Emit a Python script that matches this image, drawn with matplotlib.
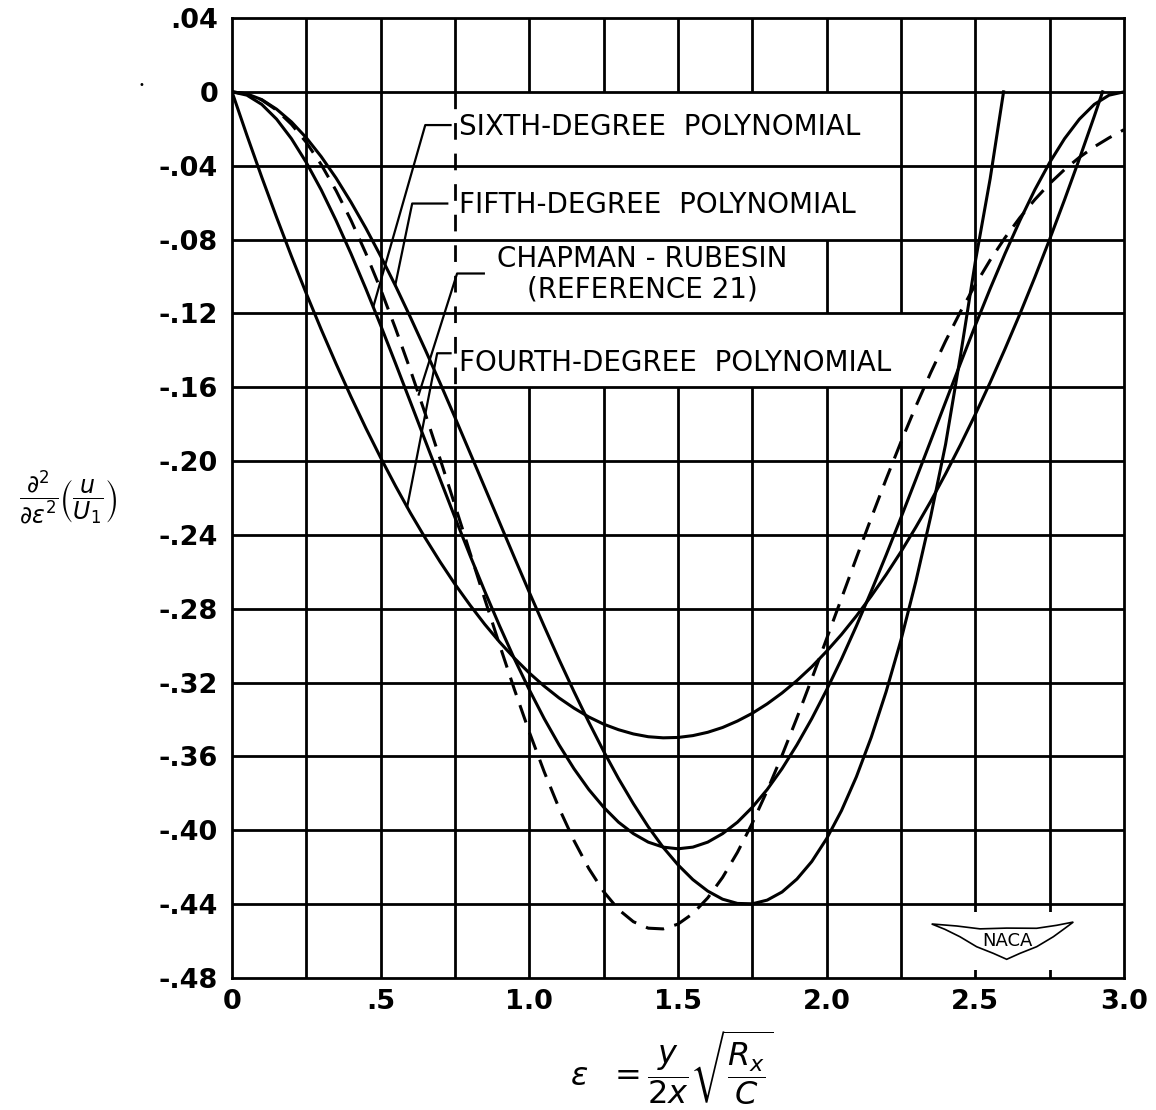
import numpy as np
import matplotlib.pyplot as plt
from matplotlib.patches import Rectangle, Polygon

# eps values and d2(u/U1)/d eps2
eps_4 = [0, .05, .1, .15, .2, .25, .3, .35, .4, .45, .5, .55, .6, .65, .7, .75, .8,
         .85, .9, .95, 1.0, 1.05, 1.1, 1.15, 1.2, 1.25, 1.3, 1.35, 1.4, 1.45, 1.5,
         1.55, 1.6, 1.65, 1.7, 1.75, 1.8, 1.85, 1.9, 1.95, 2.0, 2.05, 2.1, 2.15, 2.2,
         2.25, 2.3, 2.35, 2.4, 2.45, 2.5, 2.55, 2.6, 2.65, 2.7, 2.75, 2.8, 2.85, 2.9,
         2.928]
fourth = [0, -.0235, -.0462, -.0680, -.0891, -.1093, -.1287, -.1473, -.1651, -.1821,
          -.1982, -.2135, -.2281, -.2417, -.2546, -.2667, -.2779, -.2884, -.2980,
          -.3068, -.3148, -.3219, -.3283, -.3338, -.3386, -.3425, -.3455, -.3478,
          -.3493, -.3499, -.3497, -.3487, -.3469, -.3443, -.3408, -.3366, -.3315,
          -.3256, -.3189, -.3114, -.3030, -.2939, -.2839, -.2731, -.2615, -.2491,
          -.2358, -.2218, -.2069, -.1912, -.1747, -.1574, -.1392, -.1203, -.1005,
          -.0799, -.0585, -.0363, -.0133, 0]

eps_5 = [0, .05, .1, .15, .2, .25, .3, .35, .4, .45, .5, .55, .6, .65, .7, .75, .8,
         .85, .9, .95, 1.0, 1.05, 1.1, 1.15, 1.2, 1.25, 1.3, 1.35, 1.4, 1.45, 1.5,
         1.55, 1.6, 1.65, 1.7, 1.75, 1.8, 1.85, 1.9, 1.95, 2.0, 2.05, 2.1, 2.15, 2.2,
         2.25, 2.3, 2.35, 2.4, 2.45, 2.5, 2.55, 2.595]
fifth = [0, -.0011, -.0042, -.0094, -.0163, -.0249, -.0351, -.0467, -.0597, -.0738,
         -.0890, -.1051, -.1221, -.1397, -.1578, -.1764, -.1953, -.2143, -.2333,
         -.2523, -.2711, -.2895, -.3075, -.3248, -.3414, -.3572, -.3720, -.3856,
         -.3981, -.4092, -.4187, -.4267, -.4329, -.4373, -.4396, -.4398, -.4378,
         -.4334, -.4264, -.4169, -.4045, -.3893, -.3710, -.3496, -.3249, -.2969,
         -.2652, -.2300, -.1909, -.1430, -.0920, -.0470, 0]

eps_6 = [0, .05, .1, .15, .2, .25, .3, .35, .4, .45, .5, .55, .6, .65, .7, .75, .8,
         .85, .9, .95, 1.0, 1.05, 1.1, 1.15, 1.2, 1.25, 1.3, 1.35, 1.4, 1.45, 1.5,
         1.55, 1.6, 1.65, 1.7, 1.75, 1.8, 1.85, 1.9, 1.95, 2.0, 2.05, 2.1, 2.15, 2.2,
         2.25, 2.3, 2.35, 2.4, 2.45, 2.5, 2.55, 2.6, 2.65, 2.7, 2.75, 2.8, 2.85, 2.9,
         2.95, 3.0]
sixth = [0, -.0018, -.0068, -.0148, -.0254, -.0383, -.0531, -.0697, -.0876, -.1066,
         -.1265, -.1471, -.1680, -.1890, -.2099, -.2306, -.2509, -.2705, -.2893,
         -.3072, -.3239, -.3395, -.3537, -.3666, -.3779, -.3875, -.3956, -.4018,
         -.4064, -.4091, -.4100, -.4091, -.4064, -.4018, -.3956, -.3875, -.3779,
         -.3666, -.3537, -.3395, -.3239, -.3072, -.2893, -.2705, -.2509, -.2306,
         -.2099, -.1890, -.1680, -.1471, -.1265, -.1066, -.0876, -.0697, -.0531,
         -.0383, -.0254, -.0148, -.0068, -.0018, 0]

eps_cr = eps_6
chapman = [0, -.0011, -.0044, -.0099, -.0176, -.0274, -.0394, -.0535, -.0695, -.0874,
           -.1070, -.1282, -.1507, -.1744, -.1989, -.2240, -.2494, -.2747, -.2996,
           -.3238, -.3468, -.3683, -.3880, -.4055, -.4207, -.4332, -.4429, -.4495,
           -.4530, -.4534, -.4508, -.4451, -.4366, -.4255, -.4119, -.3961, -.3785,
           -.3594, -.3391, -.3179, -.2962, -.2743, -.2524, -.2308, -.2098, -.1896,
           -.1703, -.1521, -.1350, -.1191, -.1045, -.0911, -.0790, -.0681, -.0584,
           -.0497, -.0421, -.0355, -.0298, -.0249, -.0205]

yticks = [.04, 0, -.04, -.08, -.12, -.16, -.20, -.24, -.28, -.32, -.36, -.40, -.44, -.48]
ytick_labels = ['.04', '0', '-.04', '-.08', '-.12', '-.16', '-.20', '-.24', '-.28',
                '-.32', '-.36', '-.40', '-.44', '-.48']
xticks = [0, .5, 1.0, 1.5, 2.0, 2.5, 3.0]
xtick_labels = ['0', '.5', '1.0', '1.5', '2.0', '2.5', '3.0']

plt.rcParams['font.family'] = 'DejaVu Sans'
plt.rcParams['mathtext.fontset'] = 'dejavusans'

fig = plt.figure(figsize=(11.56, 11.10), dpi=100)
ax = fig.add_axes([0.2007, 0.1189, 0.7716, 0.8649])
ax.set_xlim(0, 3.0)
ax.set_ylim(-0.48, 0.04)

lw = 2.0
# grid: vertical lines below label boxes, horizontal ones above
for x in np.arange(0.25, 3.0, 0.25):
    ax.axvline(x, color='black', lw=lw, zorder=1)
for y in yticks[1:-1]:
    ax.axhline(y, color='black', lw=lw, zorder=3)

# white patches where the labels sit
for (x0, x1, y0, y1) in [(0.74, 2.2, -0.08, 0.0), (0.74, 1.95, -0.12, -0.08),
                         (0.74, 2.3, -0.16, -0.12)]:
    ax.add_patch(Rectangle((x0, y0), x1 - x0, y1 - y0, facecolor='white',
                           edgecolor='none', zorder=2))
ax.plot([0.75, 0.75], [0.0, -0.16], color='black', lw=lw,
        ls=(0, (6, 5)), zorder=2.5)

ax.plot(eps_4, fourth, color='black', lw=2.2, zorder=4)
ax.plot(eps_5, fifth, color='black', lw=2.2, zorder=4)
ax.plot(eps_6, sixth, color='black', lw=2.2, zorder=4)
ax.plot(eps_cr, chapman, color='black', lw=2.2, ls=(0, (6, 3.5)), zorder=4)

# labels with leader lines
lab_fs = 20
ax.text(0.765, -0.0191, 'SIXTH-DEGREE  POLYNOMIAL', fontsize=lab_fs, ha='left',
        va='center', zorder=5)
ax.text(0.765, -0.0614, 'FIFTH-DEGREE  POLYNOMIAL', fontsize=lab_fs, ha='left',
        va='center', zorder=5)
ax.text(1.38, -0.0989, 'CHAPMAN - RUBESIN\n(REFERENCE 21)', fontsize=lab_fs,
        ha='center', va='center', multialignment='center', linespacing=1.1, zorder=5)
ax.text(0.765, -0.147, 'FOURTH-DEGREE  POLYNOMIAL', fontsize=lab_fs, ha='left',
        va='center', zorder=5)

leaders = [
    (0.735, 0.650, -0.018, 0.475, eps_6, sixth),
    (0.724, 0.606, -0.0605, 0.549, eps_5, fifth),
    (0.847, 0.757, -0.0984, 0.628, eps_cr, chapman),
    (0.735, 0.690, -0.1416, 0.589, eps_4, fourth),
]
for xs, xc, yl, xt, ex, ey in leaders:
    yt = np.interp(xt, ex, ey)
    ax.plot([xs, xc, xt], [yl, yl, yt], color='black', lw=1.6, zorder=4.5)

# NACA emblem
ax.add_patch(Rectangle((0.777, 0.008), 0.174, 0.061, transform=ax.transAxes,
                       facecolor='white', edgecolor='none', zorder=2))
wing = [(0.7844, 0.0563), (0.8124, 0.0542), (0.8386, 0.0512), (0.8685, 0.0520),
        (0.9021, 0.0518), (0.9245, 0.0549), (0.9432, 0.0583), (0.9338, 0.0518),
        (0.9208, 0.0430), (0.9021, 0.0326), (0.8834, 0.0257), (0.8685, 0.0195),
        (0.8535, 0.0257), (0.8348, 0.0326), (0.8161, 0.0430), (0.7993, 0.0507)]
ax.add_patch(Polygon(wing, closed=True, transform=ax.transAxes, facecolor='white',
                     edgecolor='black', lw=1.2, zorder=5))
ax.text(0.869, 0.039, 'NACA', transform=ax.transAxes, fontsize=13, ha='center',
        va='center', zorder=6)

ax.set_xticks(xticks)
ax.set_xticklabels(xtick_labels, fontsize=19.5, fontweight='bold')
ax.set_yticks(yticks)
ax.set_yticklabels(ytick_labels, fontsize=19.5, fontweight='bold')
ax.tick_params(length=0)
ax.tick_params(axis='y', pad=10)
ax.tick_params(axis='x', pad=8)
for s in ax.spines.values():
    s.set_linewidth(lw)
    s.set_zorder(6)

fig.text(68 / 1156, 1 - 497 / 1110,
         r'$\dfrac{\partial^2}{\partial\varepsilon^2}\left(\dfrac{u}{U_1}\right)$',
         fontsize=17, ha='center', va='center')
fig.text(672 / 1156, 1 - 1068 / 1110,
         r'$\varepsilon\ \ =\dfrac{y}{2x}\sqrt{\dfrac{R_x}{C}}$',
         fontsize=23, ha='center', va='center')
fig.text(141.7 / 1156, 1 - 85 / 1110, '\u2022', fontsize=7, ha='center', va='center')

fig.savefig('out.png', dpi=100)
